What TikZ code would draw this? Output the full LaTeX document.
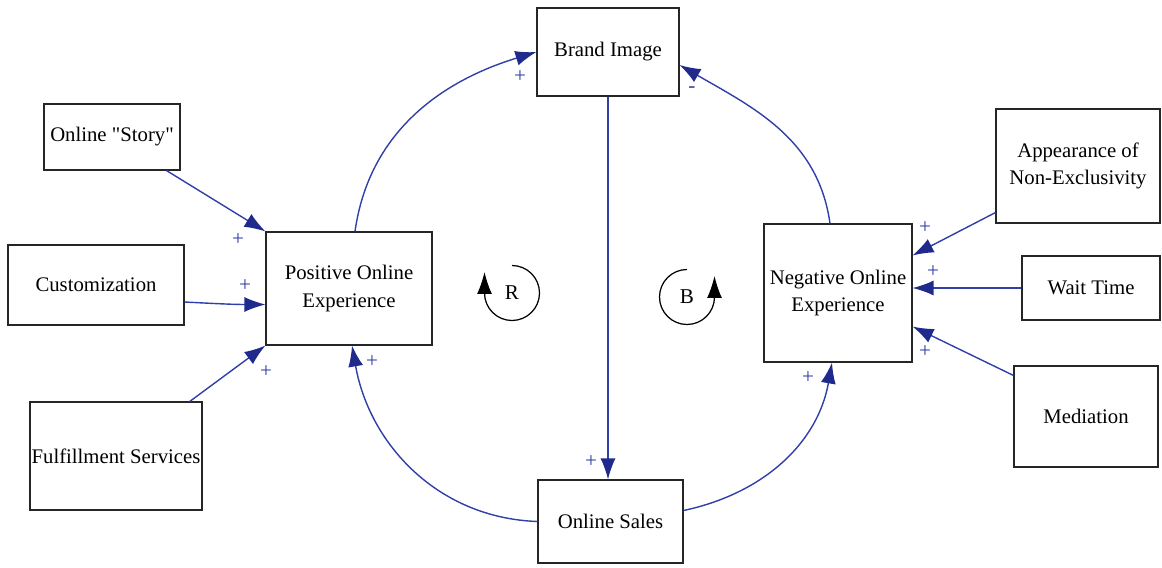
\documentclass[tikz,border=0pt]{standalone}
\usepackage{fontspec}
\setmainfont{Liberation Serif}
\usepackage{tikz}
\usetikzlibrary{arrows.meta}
\definecolor{linkblue}{RGB}{48,64,168}
\definecolor{tipblue}{RGB}{32,42,140}

\begin{document}
\begin{tikzpicture}[
	box/.style={draw=black!85, line width=0.6pt, align=center, inner sep=0pt,
		font=\fontsize{11.8}{15.5}\selectfont},
	link/.style={draw=linkblue, line width=0.8pt,
		-{Latex[length=0.42cm,width=0.3cm,color=tipblue]}},
	sign/.style={text=linkblue, font=\fontsize{12}{14}\selectfont},
	loop/.style={line width=0.7pt},
	looptip/.style={line width=0.7pt, -{Latex[length=0.44cm,width=0.3cm]}}
	]
		\useasboundingbox (0, 0) rectangle (23.24, 11.34);
		\node[box, minimum width=2.84cm, minimum height=1.76cm] (brand) at (12.16, 10.30) {Brand Image}; % top
\node[box, minimum width=2.90cm, minimum height=1.66cm] (sales) at (12.21, 0.91) {Online Sales}; % bottom
\node[box, minimum width=3.32cm, minimum height=2.26cm] (pos) at (6.98, 5.57) {Positive Online\\Experience}; % left hub
\node[box, minimum width=2.96cm, minimum height=2.76cm] (neg) at (16.76, 5.48) {Negative Online\\Experience}; % right hub
\node[box, minimum width=2.72cm, minimum height=1.32cm] (story) at (2.24, 8.60) {Online \textquotedbl Story\textquotedbl};
\node[box, minimum width=3.52cm, minimum height=1.60cm] (custom) at (1.92, 5.64) {Customization};
\node[box, minimum width=3.44cm, minimum height=2.16cm] (fulfil) at (2.32, 2.22) {Fulfillment Services};
\node[box, minimum width=3.28cm, minimum height=2.28cm] (nonex) at (21.56, 8.02) {Appearance of\\Non-Exclusivity};
\node[box, minimum width=2.76cm, minimum height=1.28cm] (wait) at (21.82, 5.58) {Wait Time};
\node[box, minimum width=2.88cm, minimum height=2.02cm] (media) at (21.72, 3.01) {Mediation};
% loops
\draw[link] ([xshift=0.12cm]pos.north) to[out=82, in=197] (brand.west) ; % R loop
\draw[link] (brand.south) -- (brand.south |- sales.north) ;
\draw[link] (sales.west) to[out=178, in=-80] ([xshift=0.06cm]pos.south) ;
\draw[link] ([yshift=0.22cm]sales.east) to[out=12, in=-100] ([xshift=-0.12cm]neg.south) ; % B loop
\draw[link] ([xshift=-0.16cm]neg.north) to[out=98, in=-30] ([yshift=-0.26cm]brand.east) ;
% inputs
\draw[link] (story) -- (pos.north west) ;
\draw[link] ([yshift=-0.34cm]custom.east) to[out=-3, in=180] ([yshift=-0.32cm]pos.west) ;
\draw[link] (fulfil) -- (pos.south west) ;
\draw[link] ([yshift=0.22cm]nonex.south west) -- ([yshift=-0.64cm]neg.north east) ;
\draw[link] (wait.west) -- (wait.west -| neg.east) ;
\draw[link] ([yshift=-0.2cm]media.north west) -- ([yshift=0.72cm]neg.south east) ;
% polarities
\node[sign] (s1) at (10.40, 9.80) {+};
\node[sign] (s2) at (13.84, 9.54) {-};
\node[sign] (s3) at (11.82, 2.10) {+};
\node[sign] (s4) at (7.44, 4.10) {+};
\node[sign] (s5) at (16.16, 3.78) {+};
\node[sign] (s6) at (4.76, 6.54) {+};
\node[sign] (s7) at (4.90, 5.62) {+};
\node[sign] (s8) at (5.32, 3.90) {+};
\node[sign] (s9) at (18.50, 6.78) {+};
\node[sign] (s10) at (18.66, 5.90) {+};
\node[sign] (s11) at (18.50, 4.30) {+};
% loop markers
\node[font=\fontsize{12}{14}\selectfont] (rmark) at (10.24, 5.48) {R};
\draw[loop] (10.24, 6.03) arc(90:-180:0.55) ;
\draw[looptip] (9.69, 5.46) -- (9.69, 5.90) ;
\node[font=\fontsize{12}{14}\selectfont] (bmark) at (13.74, 5.40) {B};
\draw[loop] (13.74, 5.95) arc(90:360:0.55) ;
\draw[looptip] (14.29, 5.38) -- (14.29, 5.82) ;
		\end{tikzpicture}
\end{document}
